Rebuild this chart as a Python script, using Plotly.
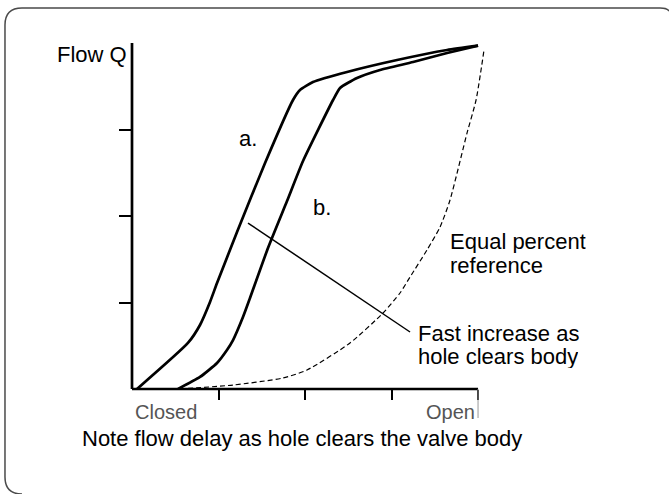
import plotly.graph_objects as go

# ---- data (valve position 0..4 = Closed..Open, flow 0..4) ----
a_x = [0.058, 0.647, 0.786, 0.902, 0.983, 1.214, 1.538, 1.861, 1.942, 2.092, 2.486, 3.064, 3.642, 4.0]
a_y = [0.0, 0.532, 0.740, 1.006, 1.225, 1.815, 2.613, 3.341, 3.457, 3.549, 3.665, 3.803, 3.919, 3.969]

b_x = [0.532, 0.786, 0.983, 1.098, 1.168, 1.283, 1.364, 1.572, 1.792, 1.977, 2.324, 2.405, 2.601, 2.867, 3.249, 3.642, 4.0]
b_y = [0.0, 0.139, 0.301, 0.451, 0.566, 0.832, 1.052, 1.630, 2.173, 2.636, 3.341, 3.480, 3.595, 3.688, 3.780, 3.884, 3.969]

eq_x = [0.555, 1.168, 1.746, 2.023, 2.520, 2.902, 3.098, 3.214, 3.410, 3.561, 3.676, 3.873, 3.977, 4.069]
eq_y = [0.0, 0.046, 0.127, 0.220, 0.532, 0.879, 1.110, 1.295, 1.607, 1.873, 2.185, 2.960, 3.341, 3.919]

x_ticks = [1, 2, 3, 4]
y_ticks = [1, 2, 3]

# ---- geometry helpers (plot area in pixels) ----
W, H = 669, 494
L, T = 132, 43
UNIT = 86.5
XMAX, YMAX = 4.3, 4.0
R = W - (L + XMAX * UNIT)
B = H - (T + YMAX * UNIT)
PW, PH = XMAX * UNIT, YMAX * UNIT

def px(xp):
    return (xp - L) / PW

def py(yp):
    return (T + PH - yp) / PH

FONT = "Liberation Sans, Arial, Helvetica, sans-serif"

fig = go.Figure()
curve_line = dict(color="black", width=2.7, shape="spline", smoothing=0.5)
fig.add_trace(go.Scatter(x=a_x, y=a_y, mode="lines", line=curve_line, hoverinfo="skip"))
fig.add_trace(go.Scatter(x=b_x, y=b_y, mode="lines", line=curve_line, hoverinfo="skip"))
fig.add_trace(go.Scatter(x=eq_x, y=eq_y, mode="lines",
                         line=dict(color="black", width=1.2, dash="5px,3px", shape="spline", smoothing=0.6),
                         hoverinfo="skip"))

# rounded border: only the visible part (right and bottom edges lie outside the picture)
path = (
    f"M {px(669)},{py(11)} Q {px(667)},{py(8)} {px(660)},{py(8)} "
    f"L {px(22)},{py(8)} Q {px(5)},{py(8)} {px(5)},{py(25)} "
    f"L {px(5)},{py(477)} Q {px(5)},{py(494)} {px(22)},{py(494)}"
)
shapes = [
    dict(type="path", xref="paper", yref="paper", path=path, line=dict(color="#4a4a4a", width=1.5), layer="below"),
    # axes
    dict(type="line", xref="paper", yref="paper", x0=0, x1=4 / XMAX, y0=0, y1=0, line=dict(color="black", width=2.7)),
    dict(type="line", xref="paper", yref="paper", x0=0, x1=0, y0=0, y1=1, line=dict(color="black", width=2.7)),
    # extension of end tick
    dict(type="line", xref="paper", yref="paper", x0=4 / XMAX, x1=4 / XMAX, y0=0, y1=py(418), line=dict(color="#999999", width=1)),
    # leader line
    dict(type="line", xref="x", yref="y", x0=1.341, y0=1.919, x1=3.214, y1=0.659, line=dict(color="black", width=1.5)),
]

def ann(text, xp, yp, xanchor="left", size=22, color="black", height=None):
    d = dict(text=text, x=px(xp), y=py(yp), xref="paper", yref="paper", xanchor=xanchor, yanchor="middle",
             showarrow=False, font=dict(family=FONT, size=size, color=color))
    if height:
        d["height"] = height
    return d

annotations = [
    ann("Flow Q", 129, 55, "right"),
    ann("a.", 237, 138),
    ann("b.", 311, 207),
    ann("Equal percent", 448, 241, height=23),
    ann("reference", 448, 265, height=23),
    ann("Fast increase as", 416, 333, height=23),
    ann("hole clears body", 416, 356, height=23),
    ann("Closed", 133, 412, "left", 20, "#555555"),
    ann("Open", 477, 412, "right", 20, "#555555"),
    ann("Note flow delay as hole clears the valve body", 80, 438),
]

fig.update_layout(
    width=W, height=H,
    margin=dict(l=L, r=R, t=T, b=B, pad=0),
    paper_bgcolor="white", plot_bgcolor="white",
    showlegend=False,
    shapes=shapes,
    annotations=annotations,
    xaxis=dict(range=[0, XMAX], showgrid=False, zeroline=False, showline=False,
               tickmode="array", tickvals=x_ticks, ticks="outside", ticklen=10, tickwidth=1.5,
               tickcolor="black", showticklabels=False, fixedrange=True),
    yaxis=dict(range=[0, YMAX], showgrid=False, zeroline=False, showline=False,
               tickmode="array", tickvals=y_ticks, ticks="outside", ticklen=12, tickwidth=1.5,
               tickcolor="black", showticklabels=False, fixedrange=True),
)

fig.write_html("out.html", config={"displayModeBar": False},
               post_script="document.body.style.margin='0';")
